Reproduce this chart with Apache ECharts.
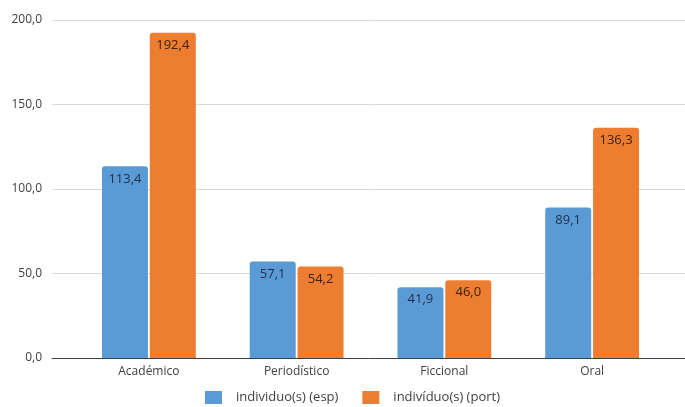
<!DOCTYPE html>
<html>
<head>
<meta charset="utf-8">
<script src="https://cdn.jsdelivr.net/npm/echarts@6/dist/echarts.min.js"></script>
<style>
  html, body { margin: 0; padding: 0; background: #fff; }
  #chart { width: 685px; height: 407px; }
</style>
</head>
<body>
<div id="chart"></div>
<script>
var categories = ['Académico', 'Periodístico', 'Ficcional', 'Oral'];
var espValues = [113.4, 57.1, 41.9, 89.1];
var portValues = [192.4, 54.2, 46.0, 136.3];
var seriesNames = ['individuo(s) (esp)', 'indivíduo(s) (port)'];

var chart = echarts.init(document.getElementById('chart'));

function comma(v) {
    return v.toFixed(1).replace('.', ',');
}

var fontName = 'Open Sans';

chart.setOption({
    animation: false,
    textStyle: { fontFamily: fontName },
    legend: {
        left: 205,
        top: 391,
        padding: 0,
        itemWidth: 17,
        itemHeight: 13,
        itemGap: 24,
        icon: 'rect',
        textStyle: { fontSize: 13, color: '#404040', padding: [0, 0, 0, 9] },
        data: seriesNames
    },
    grid: [
        // bars
        { left: 75, width: 591, top: 20, bottom: 49 },
        // gridlines + y labels spanning the full plot area
        { left: 52, right: 0, top: 20, bottom: 49 }
    ],
    xAxis: [
        {
            type: 'category',
            gridIndex: 0,
            data: categories,
            axisLine: { show: false },
            axisTick: { show: false },
            axisLabel: { fontSize: 12, color: '#404040', margin: 8 }
        },
        {
            type: 'category',
            gridIndex: 1,
            data: [''],
            axisLine: { show: true, lineStyle: { color: '#404040', width: 1 } },
            axisTick: { show: false },
            axisLabel: { show: false }
        }
    ],
    yAxis: [
        {
            type: 'value',
            gridIndex: 0,
            min: 0,
            max: 200,
            interval: 50,
            show: false
        },
        {
            type: 'value',
            gridIndex: 1,
            min: 0,
            max: 200,
            interval: 50,
            axisLine: { show: false },
            axisTick: { show: false },
            axisLabel: {
                fontSize: 12,
                color: '#404040',
                margin: 10,
                formatter: function (v) { return comma(v); }
            },
            splitLine: { lineStyle: { color: '#d9d9d9', width: 1 } }
        }
    ],
    series: [
        {
            name: seriesNames[0],
            type: 'bar',
            xAxisIndex: 0,
            yAxisIndex: 0,
            data: espValues,
            barWidth: 46,
            barGap: '4%',
            itemStyle: { color: '#5b9bd5', borderRadius: [3, 3, 0, 0] },
            label: {
                show: true,
                position: 'insideTop',
                distance: 6,
                fontSize: 13,
                color: '#1f2f4a',
                formatter: function (p) { return comma(p.value); }
            }
        },
        {
            name: seriesNames[1],
            type: 'bar',
            xAxisIndex: 0,
            yAxisIndex: 0,
            data: portValues,
            barWidth: 46,
            itemStyle: { color: '#ed7d31', borderRadius: [3, 3, 0, 0] },
            label: {
                show: true,
                position: 'insideTop',
                distance: 6,
                fontSize: 13,
                color: '#3d220f',
                formatter: function (p) { return comma(p.value); }
            }
        }
    ]
});
</script>
</body>
</html>
